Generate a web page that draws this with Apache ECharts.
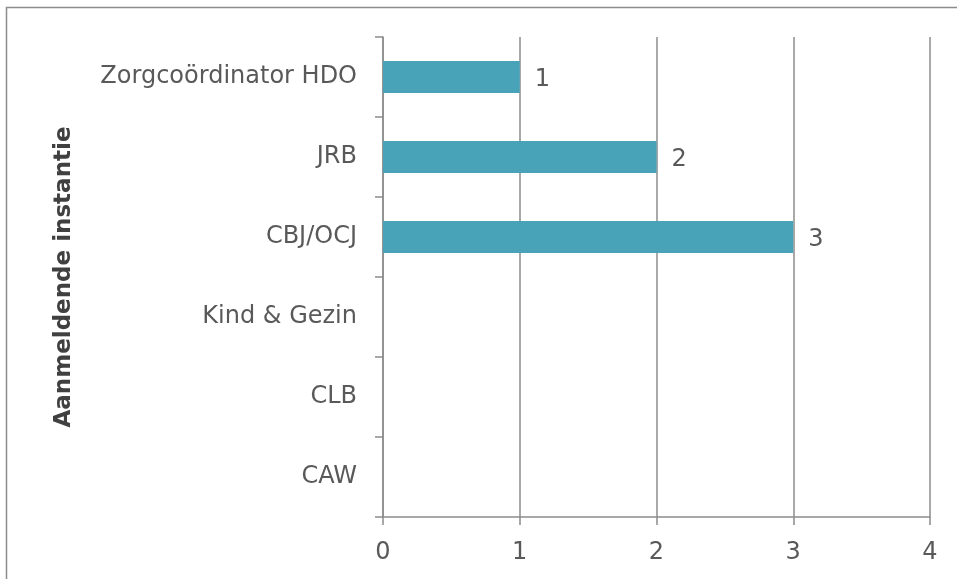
<!DOCTYPE html>
<html><head><meta charset="utf-8">
<script src="https://cdn.jsdelivr.net/npm/echarts@6/dist/echarts.min.js"></script>
<style>html,body{margin:0;padding:0;background:#fff}#c{width:957px;height:579px}</style>
</head><body><div id="c"></div>
<script>
const categories = ['CAW', 'CLB', 'Kind & Gezin', 'CBJ/OCJ', 'JRB', 'Zorgcoördinator HDO'];
const values = [null, null, null, 3, 2, 1];
const xTicks = [0, 1, 2, 3, 4];
const axisTitle = 'Aanmeldende instantie';

const font = 'DejaVu Sans';
const chart = echarts.init(document.getElementById('c'), null, {renderer: 'canvas'});
chart.setOption({
  animation: false,
  textStyle: {fontFamily: font},
  graphic: [{
    type: 'rect', shape: {x: 6.5, y: 7.5, width: 960, height: 600},
    style: {fill: 'none', stroke: '#8c8c8c', lineWidth: 1.5}, z: -10
  }],
  grid: {left: 383, right: 27, top: 37, bottom: 62, containLabel: false},
  xAxis: {
    type: 'value', min: xTicks[0], max: xTicks[xTicks.length - 1], interval: 1,
    axisLine: {show: true, lineStyle: {color: '#8c8c8c', width: 1.5}},
    axisTick: {show: true, length: 8, lineStyle: {color: '#8c8c8c', width: 1.5}},
    splitLine: {show: true, lineStyle: {color: '#8c8c8c', width: 1.5}},
    axisLabel: {color: '#595959', fontSize: 24, fontFamily: font, margin: 24}
  },
  yAxis: {
    type: 'category', data: categories,
    name: axisTitle, nameLocation: 'middle', nameRotate: 90, nameGap: 307,
    nameTextStyle: {fontWeight: 'bold', fontSize: 23, color: '#404040', fontFamily: font},
    axisLine: {show: true, lineStyle: {color: '#8c8c8c', width: 1.5}},
    axisTick: {show: true, length: 8, alignWithLabel: false, lineStyle: {color: '#8c8c8c', width: 1.5}},
    axisLabel: {color: '#595959', fontSize: 24, fontFamily: font, margin: 26, padding: [5, 0, 0, 0]}
  },
  series: [{
    type: 'bar', data: values, barWidth: '40%',
    itemStyle: {color: '#48A3B8'},
    label: {show: true, position: 'right', distance: 15, offset: [0, 3], color: '#595959', fontSize: 24, fontFamily: font}
  }]
});
</script></body></html>
